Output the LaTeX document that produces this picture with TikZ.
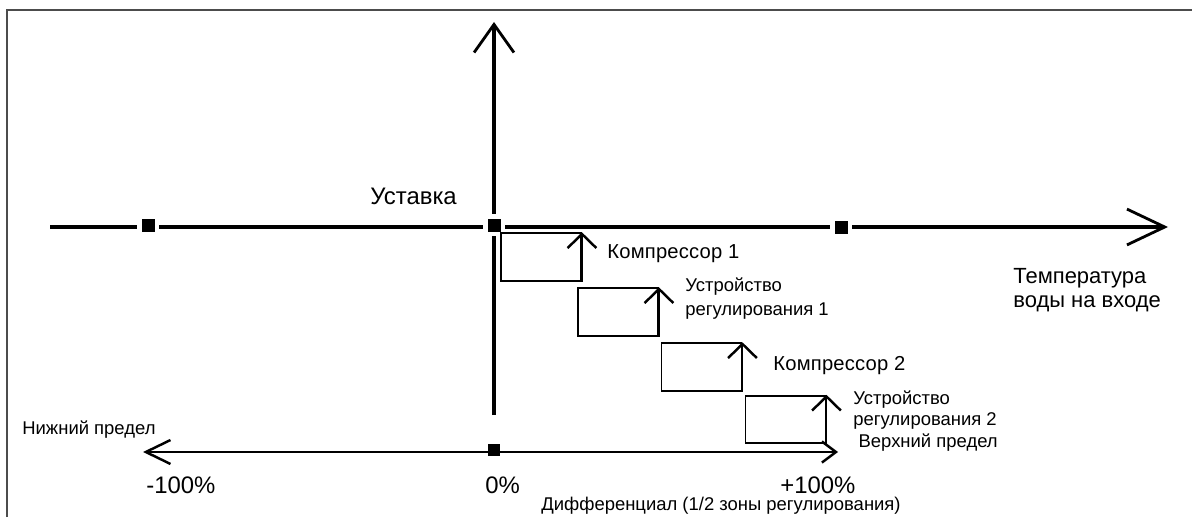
\documentclass[tikz,border=0pt]{standalone}
\usepackage{fontspec}
\setmainfont{Liberation Sans}
\usepackage{tikz}
\usetikzlibrary{arrows.meta,positioning}
\tikzset{
  axisthick/.style={line width=2.2pt, black},
  axisthin/.style={line width=1.1pt, black},
  stepbox/.style={rectangle, draw=black, line width=1.1pt, minimum width=1.6cm,
                  minimum height=0.95cm, inner sep=0pt},
  boxarrow/.style={line width=1.1pt, -{Straight Barb[length=8pt, width=16.4pt, line width=1.4pt]}},
  tickmark/.style={rectangle, fill=black, draw=white, line width=2.4pt,
                   minimum size=9.8pt, inner sep=0pt},
  tickflat/.style={rectangle, fill=black, minimum size=6.8pt, inner sep=0pt},
  lbl/.style={font=\fontsize{10.5}{13.4}\selectfont, inner sep=0pt, align=left},
  complbl/.style={font=\fontsize{11.5}{13.4}\selectfont\addfontfeature{LetterSpace=1}, inner sep=0pt},
  midlbl/.style={font=\fontsize{12.5}{13.6}\selectfont, inner sep=0pt, align=left},
  biglbl/.style={font=\fontsize{13.6}{16}\selectfont, inner sep=0pt},
}

\begin{document}
\begin{tikzpicture}[x=0.02cm, y=-0.02cm]
  \useasboundingbox (0,0) rectangle (1192,517);
  % Frame (only top and left edges visible)
  \draw[black!70, line width=1.1pt] (7,517) -- (7,10) -- (1192,10);
  % Axes
  \coordinate (vbot) at (494,415);
  \coordinate (vtop) at (494,22);
  \coordinate (hleft) at (50,227);
  \coordinate (hright) at (1168,227);
  \coordinate (lleft) at (143,452);
  \coordinate (lright) at (838,452);
  \draw[axisthick, -{Straight Barb[length=16pt, width=22.7pt, line width=1.6pt]}] (vbot) -- (vtop);
  \draw[axisthick, -{Straight Barb[length=21.5pt, width=20.4pt, line width=1.6pt]}] (hleft) -- (hright);
  \draw[axisthin, {Straight Barb[length=14pt, width=13.6pt, line width=1.4pt]}-{Straight Barb[length=8pt, width=12pt, line width=1.4pt]}] (lleft) -- (lright);
  % Tick marks
  \node[tickmark] (tm) at (148,225) {};
  \node[tickmark] (t0) at (494,225) {};
  \node[tickmark] (tp) at (841,227) {};
  \node[tickflat] (b0) at (494,450) {};
  % Steps
  \node[stepbox] (box1) at (541,257) {};
  \node[stepbox] (box2) at (618,312) {};
  \node[stepbox] (box3) at (701.5,367) {};
  \node[stepbox] (box4) at (785.5,419.5) {};
  \draw[boxarrow] (box1.south east) -- (box1.north east);
  \draw[boxarrow] (box2.south east) -- (box2.north east);
  \draw[boxarrow] (box3.south east) -- (box3.north east);
  \draw[boxarrow] (box4.south east) -- (box4.north east);
  % Labels (base of a multi-line node is its last line)
  \node[biglbl, anchor=base west] (setpoint) at (370,204) {Уставка};
  \node[complbl, anchor=base west] (comp1) at (607,258) {Компрессор 1};
  \node[lbl, anchor=base west] (ctrl1) at (685,315) {Устройство\\регулирования 1};
  \node[complbl, anchor=base west] (comp2) at (773,370) {Компрессор 2};
  \node[lbl, anchor=base west, font=\fontsize{10.5}{12}\selectfont] (ctrl2) at (853,447)
        {Устройство\\регулирования 2\\\hspace*{3pt}Верхний предел};
  \node[midlbl, anchor=base west] (temp) at (1013,307) {Температура\\воды на входе};
  \node[lbl, anchor=base west] (lowlim) at (22,434) {Нижний предел};
  \node[biglbl, anchor=base west] (m100) at (146,493) {-100\%};
  \node[biglbl, anchor=base west] (zero) at (485,493) {0\%};
  \node[biglbl, anchor=base west] (p100) at (780,493) {+100\%};
  \node[lbl, anchor=base west] (diff) at (541,510) {Дифференциал (1/2 зоны регулирования)};
\end{tikzpicture}
\end{document}
